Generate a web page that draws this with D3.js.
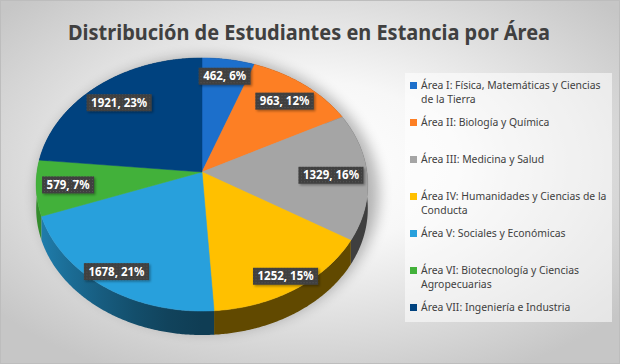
<!DOCTYPE html>
<html>
<head>
<meta charset="utf-8">
<script src="https://cdn.jsdelivr.net/npm/d3@7"></script>
<style>
  html, body { margin: 0; padding: 0; background: #fff; }
  svg { display: block; }
</style>
</head>
<body>
<div id="chart"></div>
<script>
// data
var categories = [
    "Área I: Física, Matemáticas y Ciencias de la Tierra",
    "Área II: Biología y Química",
    "Área III: Medicina y Salud",
    "Área IV: Humanidades y Ciencias de la Conducta",
    "Área V: Sociales y Económicas",
    "Área VI: Biotecnología y Ciencias Agropecuarias",
    "Área VII: Ingeniería e Industria"
];
var values = [462, 963, 1329, 1252, 1678, 579, 1921];
var colors = ["#1c6fcb", "#fd7f24", "#a5a5a5", "#ffc000", "#28a0dc", "#42b13a", "#00427f"];
var title = "Distribución de Estudiantes en Estancia por Área";

var width = 620, height = 364;

// pie geometry (tilted disc with a little perspective)
var cx = 202, cy = 172, rx = 165, ry = 125.3, persp = 0.0988, depth = 24;
// where the labels sit along the radius, per slice
var labelRadius = [0.84, 0.8, 0.78, 0.9, 0.88, 0.81, 0.79];
// legend lines wrap after this many characters
var legendWrap = 39;

function proj(r, a) {
    var u = Math.sin(a), v = -Math.cos(a);
    var s = 1 / (1 - persp * r * v);
    return [cx + rx * r * u * s, cy + ry * r * v * s];
}

var svg = d3.select("#chart").append("svg")
    .attr("width", width)
    .attr("height", height);

var defs = svg.append("defs");

var bg = defs.append("radialGradient")
    .attr("id", "bg")
    .attr("cx", "50%").attr("cy", "45%").attr("r", "65%");
bg.append("stop").attr("offset", "0%").attr("stop-color", "#ffffff");
bg.append("stop").attr("offset", "35%").attr("stop-color", "#f7f7f7");
bg.append("stop").attr("offset", "100%").attr("stop-color", "#c6c6c6");

defs.append("filter").attr("id", "blur")
    .attr("x", "-30%").attr("y", "-30%").attr("width", "160%").attr("height", "160%")
    .append("feGaussianBlur").attr("stdDeviation", 7);

var lblShadow = defs.append("filter").attr("id", "lblshadow")
    .attr("x", "-20%").attr("y", "-30%").attr("width", "150%").attr("height", "180%");
lblShadow.append("feDropShadow")
    .attr("dx", 1.5).attr("dy", 1.5).attr("stdDeviation", 1.2)
    .attr("flood-color", "#000").attr("flood-opacity", 0.35);

var dots = defs.append("pattern")
    .attr("id", "dots")
    .attr("width", 3).attr("height", 3)
    .attr("patternUnits", "userSpaceOnUse");
dots.append("rect").attr("width", 3).attr("height", 3).attr("fill", "#3f3f3f");
dots.append("rect").attr("width", 1).attr("height", 1).attr("fill", "#575757");

// side shading: one horizontal gradient per colour, lighter toward the left
var shadeX = d3.scaleLinear().domain([-1, 1]).range([cx - rx - 2, cx + rx + 2]);
colors.forEach(function (c, i) {
    var lg = defs.append("linearGradient")
        .attr("id", "side" + i)
        .attr("gradientUnits", "userSpaceOnUse")
        .attr("x1", shadeX(-1)).attr("y1", 0)
        .attr("x2", shadeX(1)).attr("y2", 0);
    d3.range(0, 1.0001, 0.1).forEach(function (t) {
        var u = -1 + 2 * t;
        var k = 0.38 + 0.42 * Math.pow(Math.max(0, -u), 1.5);
        lg.append("stop")
            .attr("offset", t)
            .attr("stop-color", d3.interpolateRgb("#000", c)(k));
    });
});

svg.append("rect")
    .attr("x", 0.5).attr("y", 0.5)
    .attr("width", width - 1).attr("height", height - 1)
    .attr("fill", "url(#bg)")
    .attr("stroke", "#bdbdbd");

// title
svg.append("text")
    .attr("x", 309)
    .attr("y", 40)
    .attr("text-anchor", "middle")
    .attr("font-family", "'Noto Sans', sans-serif")
    .attr("font-weight", 700)
    .attr("font-size", 21)
    .attr("fill", "#404040")
    .attr("textLength", 482)
    .attr("lengthAdjust", "spacingAndGlyphs")
    .text(title);

// soft shadow under the pie
svg.append("ellipse")
    .attr("cx", cx + 6).attr("cy", cy + 22)
    .attr("rx", rx + 6).attr("ry", ry + 12)
    .attr("fill", "#000")
    .attr("opacity", 0.28)
    .attr("filter", "url(#blur)");

var total = d3.sum(values);
var arcs = d3.pie().sort(null)(values);
var fmtPct = d3.format(".0%");

function rim(d) {
    var n = Math.max(2, Math.ceil((d.endAngle - d.startAngle) / (Math.PI / 360)));
    return d3.range(n + 1).map(function (j) {
        return proj(1, d.startAngle + (d.endAngle - d.startAngle) * j / n);
    });
}

// side walls, back to front
var sideOrder = arcs.map(function (d, i) {
    return { d: d, i: i, v: d3.max(d3.range(0, 1.001, 0.05), function (t) {
        return -Math.cos(d.startAngle + (d.endAngle - d.startAngle) * t);
    }) };
}).sort(function (a, b) { return a.v - b.v; });

svg.append("g")
    .selectAll("path")
    .data(sideOrder)
    .join("path")
    .attr("d", function (s) {
        var top = rim(s.d);
        var bottom = top.map(function (p) { return [p[0], p[1] + depth]; }).reverse();
        return d3.line()(top.concat(bottom)) + "Z";
    })
    .attr("fill", function (s) { return "url(#side" + s.i + ")"; });

// top faces
svg.append("g")
    .selectAll("path")
    .data(arcs)
    .join("path")
    .attr("d", function (d) {
        return d3.line()([proj(0, 0)].concat(rim(d))) + "Z";
    })
    .attr("fill", function (d, i) { return colors[i]; })
    .attr("stroke", function (d, i) { return colors[i]; })
    .attr("stroke-width", 0.5);

// data labels
var labels = svg.append("g")
    .selectAll("g")
    .data(arcs)
    .join("g")
    .attr("transform", function (d, i) {
        var p = proj(labelRadius[i], (d.startAngle + d.endAngle) / 2);
        return "translate(" + p[0] + "," + p[1] + ")";
    });

labels.append("rect").attr("class", "box");
labels.append("text")
    .attr("text-anchor", "middle")
    .attr("dy", "0.36em")
    .attr("font-family", "'Noto Sans', sans-serif")
    .attr("font-weight", 700)
    .attr("font-size", 11.5)
    .attr("fill", "#ffffff")
    .text(function (d) { return d.data + ", " + fmtPct(d.data / total); });

labels.each(function () {
    var g = d3.select(this);
    var w = g.select("text").node().getComputedTextLength() + 9;
    g.select("rect")
        .attr("x", -w / 2).attr("y", -8.5)
        .attr("width", w).attr("height", 17)
        .attr("fill", "url(#dots)")
        .attr("filter", "url(#lblshadow)");
});

// legend
var legend = svg.append("g");
legend.append("rect")
    .attr("x", 405).attr("y", 73)
    .attr("width", 207).attr("height", 249)
    .attr("fill", "#ffffff")
    .attr("opacity", 0.55);

var legendY = d3.scalePoint()
    .domain(d3.range(categories.length))
    .range([89, 311]);

var items = legend.selectAll("g.item")
    .data(categories)
    .join("g")
    .attr("class", "item")
    .attr("transform", function (d, i) { return "translate(410," + legendY(i) + ")"; });

items.append("rect")
    .attr("x", 0).attr("y", -7)
    .attr("width", 7).attr("height", 7)
    .attr("fill", function (d, i) { return colors[i]; });

function wrapWords(s, max) {
    var lines = [], cur = "";
    s.split(" ").forEach(function (w) {
        var next = cur ? cur + " " + w : w;
        if (next.length > max && cur) {
            lines.push(cur);
            cur = w;
        } else {
            cur = next;
        }
    });
    lines.push(cur);
    return lines;
}

items.append("text")
    .attr("font-family", "'Noto Sans', sans-serif")
    .attr("font-size", 10.4)
    .attr("fill", "#404040")
    .selectAll("tspan")
    .data(function (d) { return wrapWords(d, legendWrap); })
    .join("tspan")
    .attr("x", 11)
    .attr("dy", function (d, j) { return j ? 14 : 0; })
    .text(function (d) { return d; });
</script>
</body>
</html>
